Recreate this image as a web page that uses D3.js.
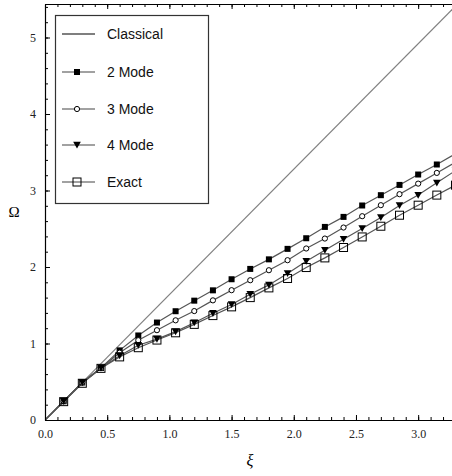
<!DOCTYPE html>
<html>
<head>
<meta charset="utf-8">
<script src="https://cdn.jsdelivr.net/npm/d3@7"></script>
<style>
    body { margin: 0; background: #fff; }
    svg { display: block; }
</style>
</head>
<body>
<svg id="chart" width="452" height="476"></svg>
<script>
    'use strict';

    // xi values where the mode approximations were computed
    var xiValues = [0, 0.15, 0.3, 0.45, 0.6, 0.75, 0.9, 1.05, 1.2, 1.35, 1.5, 1.65,
        1.8, 1.95, 2.1, 2.25, 2.4, 2.55, 2.7, 2.85, 3.0, 3.15, 3.3];

    var classicalXi = [0, 3.3];
    var classicalOmega = [0, 5.41];

    var mode2 = [0, 0.245, 0.49, 0.68, 0.91, 1.105, 1.274, 1.422, 1.56, 1.695, 1.84, 1.975,
        2.10, 2.237, 2.376, 2.524, 2.655, 2.804, 2.939, 3.073, 3.209, 3.34, 3.48];
    var mode3 = [0, 0.245, 0.49, 0.68, 0.88, 1.043, 1.174, 1.303, 1.424, 1.564, 1.697, 1.827,
        1.958, 2.089, 2.242, 2.372, 2.516, 2.664, 2.808, 2.952, 3.09, 3.23, 3.37];
    var mode4 = [0, 0.245, 0.49, 0.68, 0.84, 0.978, 1.058, 1.155, 1.272, 1.395, 1.51, 1.644,
        1.766, 1.915, 2.076, 2.22, 2.363, 2.503, 2.647, 2.804, 2.94, 3.10, 3.26];
    var exact = [0, 0.24, 0.48, 0.675, 0.825, 0.945, 1.045, 1.14, 1.25, 1.365, 1.479, 1.60,
        1.727, 1.85, 1.993, 2.119, 2.255, 2.393, 2.533, 2.677, 2.808, 2.94, 3.07];

    var seriesNames = ['Classical', '2 Mode', '3 Mode', '4 Mode', 'Exact'];
    var xTicks = [0, 0.5, 1.0, 1.5, 2.0, 2.5, 3.0];
    var yTicks = [0, 1, 2, 3, 4, 5];

    (function() {
        var svg = d3.select('#chart');
        var plotLeft = 45, plotRight = 452, plotTop = 4, plotBottom = 420;

        var x = d3.scaleLinear().domain([0, 3.272]).range([plotLeft, plotRight]);
        var y = d3.scaleLinear().domain([0, 5.438]).range([plotBottom, plotTop]);

        svg.append('clipPath').attr('id', 'clip')
            .append('rect')
            .attr('x', plotLeft).attr('y', plotTop)
            .attr('width', plotRight - plotLeft).attr('height', plotBottom - plotTop);

        var body = svg.append('g').attr('clip-path', 'url(#clip)');

        var line = d3.line()
            .x(d => x(d[0]))
            .y(d => y(d[1]));

        // Marker drawing, shared by the plot and the legend
        var markers = {
            '2 Mode': function(g) {
                g.append('rect').attr('x', -3).attr('y', -3).attr('width', 6).attr('height', 6)
                    .attr('fill', '#000');
            },
            '3 Mode': function(g) {
                g.append('circle').attr('r', 2.6)
                    .attr('fill', '#fff').attr('stroke', '#000').attr('stroke-width', 1);
            },
            '4 Mode': function(g) {
                g.append('path').attr('d', 'M-3.8,-3.2L3.8,-3.2L0,3.6Z')
                    .attr('fill', '#000');
            },
            'Exact': function(g) {
                g.append('rect').attr('x', -4).attr('y', -4).attr('width', 8).attr('height', 8)
                    .attr('fill', 'none').attr('stroke', '#000').attr('stroke-width', 1);
            }
        };

        // Classical straight line
        body.append('path')
            .datum(classicalXi.map((v, i) => [v, classicalOmega[i]]))
            .attr('d', line)
            .attr('fill', 'none')
            .attr('stroke', '#808080')
            .attr('stroke-width', 1.2);

        var modeSeries = [
            {name: '2 Mode', values: mode2},
            {name: '3 Mode', values: mode3},
            {name: '4 Mode', values: mode4},
            {name: 'Exact', values: exact}
        ];

        modeSeries.forEach(s => {
            var pts = xiValues.map((v, i) => [v, s.values[i]]);
            body.append('path')
                .datum(pts)
                .attr('d', line)
                .attr('fill', 'none')
                .attr('stroke', '#555')
                .attr('stroke-width', 1.2);
        });

        modeSeries.forEach(s => {
            var pts = xiValues.map((v, i) => [v, s.values[i]]).slice(1);
            body.append('g')
                .selectAll('g')
                .data(pts)
                .join('g')
                .attr('transform', d => `translate(${x(d[0])},${y(d[1])})`)
                .each(function() {
                    markers[s.name](d3.select(this));
                });
        });

        // Axes: ticks point inward
        var tickFont = '"Liberation Serif", "Times New Roman", serif';
        var xMinor = d3.range(0, 3.3, 0.1);
        var yMinor = d3.range(0, 5.5, 0.2);

        svg.append('g').attr('transform', `translate(0,${plotBottom})`)
            .call(d3.axisBottom(x).tickValues(xTicks).tickFormat(d3.format('.1f'))
                .tickSizeInner(-5).tickSizeOuter(0).tickPadding(9));
        svg.append('g').attr('transform', `translate(0,${plotBottom})`)
            .call(d3.axisBottom(x).tickValues(xMinor).tickSizeInner(-3).tickSizeOuter(0).tickFormat(''))
            .select('.domain').remove();

        svg.append('g').attr('transform', `translate(0,${plotTop})`)
            .call(d3.axisTop(x).tickValues(xTicks).tickSizeInner(-5).tickSizeOuter(0).tickFormat(''));
        svg.append('g').attr('transform', `translate(0,${plotTop})`)
            .call(d3.axisTop(x).tickValues(xMinor).tickSizeInner(-3).tickSizeOuter(0).tickFormat(''))
            .select('.domain').remove();

        svg.append('g').attr('transform', `translate(${plotLeft},0)`)
            .call(d3.axisLeft(y).tickValues(yTicks).tickFormat(d3.format('d'))
                .tickSizeInner(-5).tickSizeOuter(0).tickPadding(9));
        svg.append('g').attr('transform', `translate(${plotLeft},0)`)
            .call(d3.axisLeft(y).tickValues(yMinor).tickSizeInner(-3).tickSizeOuter(0).tickFormat(''))
            .select('.domain').remove();

        svg.selectAll('.tick text')
            .attr('font-family', tickFont)
            .attr('font-size', 12)
            .attr('fill', '#222');
        svg.selectAll('.domain').attr('stroke', '#000').attr('stroke-width', 1.2);

        // Axis titles
        svg.append('text')
            .attr('x', 14).attr('y', 217)
            .attr('text-anchor', 'middle')
            .attr('font-family', tickFont)
            .attr('font-size', 15)
            .text('Ω');

        svg.append('text')
            .attr('x', 250).attr('y', 466)
            .attr('text-anchor', 'middle')
            .attr('font-family', tickFont)
            .attr('font-style', 'italic')
            .attr('font-size', 16)
            .text('ξ');

        // Legend
        var legend = svg.append('g');
        legend.append('rect')
            .attr('x', 55.5).attr('y', 15.5)
            .attr('width', 153).attr('height', 188)
            .attr('fill', '#fff')
            .attr('stroke', '#333')
            .attr('stroke-width', 1.2);

        var legendRows = [34, 72, 109, 145, 182];
        seriesNames.forEach((name, i) => {
            var row = legend.append('g').attr('transform', `translate(0,${legendRows[i]})`);
            row.append('line')
                .attr('x1', 62).attr('x2', 95)
                .attr('y1', 0).attr('y2', 0)
                .attr('stroke', name === 'Classical' ? '#000' : '#444')
                .attr('stroke-width', 1.2);
            if (markers[name]) {
                markers[name](row.append('g').attr('transform', 'translate(77,0)'));
            }
            row.append('text')
                .attr('x', 107).attr('y', 5)
                .attr('font-family', '"Liberation Sans", Arial, sans-serif')
                .attr('font-size', 14)
                .attr('fill', '#111')
                .text(name);
        });
    })();
</script>
</body>
</html>
